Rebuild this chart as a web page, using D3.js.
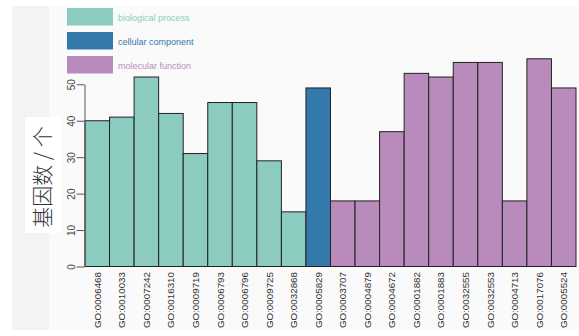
<!DOCTYPE html>
<html>
<head>
<meta charset="utf-8">
<script src="https://cdn.jsdelivr.net/npm/d3@7"></script>
<style>
  body { margin: 0; background: #fff; }
  svg { display: block; }
</style>
</head>
<body>
<svg id="chart" width="579" height="336"></svg>
<script>
// GO terms by category
const bpTerms = ['GO:0006468', 'GO:0010033', 'GO:0007242', 'GO:0016310', 'GO:0009719',
                 'GO:0006793', 'GO:0006796', 'GO:0009725', 'GO:0032868'];
const bpValues = [40, 41, 52, 42, 31, 45, 45, 29, 15];

const ccTerms = ['GO:0005829'];
const ccValues = [49];

const mfTerms = ['GO:0003707', 'GO:0004879', 'GO:0004672', 'GO:0001882', 'GO:0001883',
                 'GO:0032555', 'GO:0032553', 'GO:0004713', 'GO:0017076', 'GO:0005524'];
const mfValues = [18, 18, 37, 53, 52, 56, 56, 18, 57, 49];

const categories = ['biological process', 'cellular component', 'molecular function'];
const colors = ['#8ccbbf', '#3479ab', '#b98bbc'];
const yTicks = [0, 10, 20, 30, 40, 50];

// flatten into one list of bars
const data = [];
bpTerms.forEach((t, i) => data.push({ term: t, value: bpValues[i], cat: categories[0] }));
ccTerms.forEach((t, i) => data.push({ term: t, value: ccValues[i], cat: categories[1] }));
mfTerms.forEach((t, i) => data.push({ term: t, value: mfValues[i], cat: categories[2] }));

const svg = d3.select('#chart');

// background patches of the original screenshot
svg.append('rect').attr('x', 0).attr('y', 0).attr('width', 579).attr('height', 336).attr('fill', '#ffffff');
svg.append('rect').attr('x', 12).attr('y', 6).attr('width', 567).attr('height', 324).attr('fill', '#fafafa');
svg.append('rect').attr('x', 12).attr('y', 6).attr('width', 37).attr('height', 324).attr('fill', '#f3f3f3');
svg.append('rect').attr('x', 25).attr('y', 117).attr('width', 36).attr('height', 116).attr('fill', '#ffffff');

const x = d3.scaleBand()
    .domain(data.map(d => d.term))
    .range([85, 576])
    .padding(0);

const y = d3.scaleLinear()
    .domain([0, 50])
    .range([266.5, 84.3]);

const color = d3.scaleOrdinal().domain(categories).range(colors);

// bars
svg.append('g')
    .selectAll('rect')
    .data(data)
    .join('rect')
    .attr('x', d => x(d.term))
    .attr('y', d => y(d.value))
    .attr('width', x.bandwidth())
    .attr('height', d => y(0) - y(d.value))
    .attr('fill', d => color(d.cat))
    .attr('stroke', '#222')
    .attr('stroke-width', 1);

// y axis
const yAxis = svg.append('g')
    .attr('transform', 'translate(84.5,0)')
    .call(d3.axisLeft(y).tickValues(yTicks).tickSize(8).tickSizeOuter(0));
yAxis.select('.domain').attr('stroke', '#555');
yAxis.selectAll('.tick line').attr('stroke', '#555');
yAxis.selectAll('.tick text')
    .attr('font-family', 'Liberation Sans, Arial, sans-serif')
    .attr('font-size', 10)
    .attr('fill', '#444')
    .attr('x', 0)
    .attr('dy', 0)
    .attr('text-anchor', 'middle')
    .attr('transform', 'translate(-10,0) rotate(-90)');

// x labels
svg.append('g')
    .selectAll('text')
    .data(data)
    .join('text')
    .attr('transform', d => `translate(${x(d.term) + x.bandwidth() / 2 + 3.5},272) rotate(-90)`)
    .attr('text-anchor', 'end')
    .attr('font-family', 'Liberation Sans, Arial, sans-serif')
    .attr('font-size', 9.8)
    .attr('fill', '#333')
    .text(d => d.term);

// y label
svg.append('text')
    .attr('transform', 'translate(50,177) rotate(-90)')
    .attr('text-anchor', 'middle')
    .attr('font-family', 'Noto Sans CJK SC, sans-serif')
    .attr('font-weight', 300)
    .attr('font-size', 21)
    .attr('fill', '#333')
    .text('基因数 / 个');

// legend
const legend = svg.append('g')
    .selectAll('g')
    .data(categories)
    .join('g')
    .attr('transform', (d, i) => `translate(67,${8 + i * 24})`);

legend.append('rect')
    .attr('width', 46)
    .attr('height', 17.5)
    .attr('fill', d => color(d));

legend.append('text')
    .attr('x', 51)
    .attr('y', 12.5)
    .attr('font-family', 'Liberation Sans, Arial, sans-serif')
    .attr('font-size', 9)
    .attr('fill', d => color(d))
    .text(d => d);
</script>
</body>
</html>
